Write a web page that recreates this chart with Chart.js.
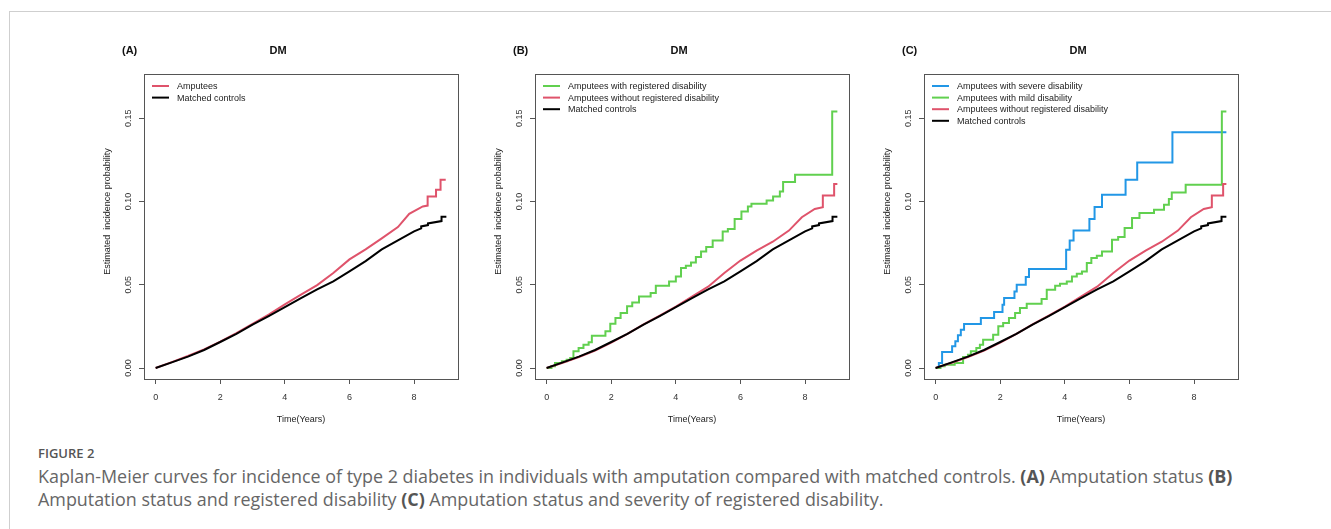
<!DOCTYPE html>
<html>
<head>
<meta charset="utf-8">
<script src="https://cdn.jsdelivr.net/npm/chart.js@4.4.0/dist/chart.umd.min.js"></script>
<style>
  body { margin: 0; background: #fff; width: 1331px; height: 529px; overflow: hidden; position: relative; }
  #frame { position: absolute; left: 9px; top: 11px; right: 0; bottom: 0; border-top: 1px solid #cfcfcf; border-left: 1px solid #cfcfcf; }
  .panel { position: absolute; top: 30px; width: 400px; height: 410px; }
  #caption { position: absolute; left: 38px; top: 443px; font-family: "Open Sans", sans-serif; color: #666; white-space: nowrap; }
  #caption .fig { font-size: 13px; font-weight: 600; color: #555; line-height: 20px; }
  #caption .txt { font-size: 17.9px; line-height: 23px; margin-top: 2px; }
  #caption b { font-weight: 700; color: #555; }
</style>
</head>
<body>
<div id="frame"></div>
<canvas id="panelA" class="panel" width="400" height="410" style="left:80px"></canvas>
<canvas id="panelB" class="panel" width="400" height="410" style="left:471px"></canvas>
<canvas id="panelC" class="panel" width="400" height="410" style="left:860px"></canvas>
<div id="caption">
  <div class="fig">FIGURE 2</div>
  <div class="txt">Kaplan-Meier curves for incidence of type 2 diabetes in individuals with amputation compared with matched controls. <b>(A)</b> Amputation status <b>(B)</b><br>Amputation status and registered disability <b>(C)</b> Amputation status and severity of registered disability.</div>
</div>
<script>
// axis ticks
var xTicks = [0, 2, 4, 6, 8];
var yTicks = [0, 0.05, 0.10, 0.15];

// matched controls (same in all panels)
var controlsT = [0, 0.5, 1, 1.5, 2, 2.5, 3, 3.5, 4, 4.5, 5, 5.5, 6, 6.5, 7, 7.5, 8, 8.22, 8.22, 8.43, 8.43, 8.85, 8.85, 9.0];
var controlsP = [0, 0.0034, 0.0068, 0.0108, 0.0156, 0.0205, 0.026, 0.0312, 0.0366, 0.042, 0.0472, 0.052, 0.058, 0.0642, 0.0712, 0.0766, 0.082, 0.0838, 0.085, 0.0858, 0.0868, 0.0882, 0.0908, 0.0908];

// panel A: all amputees
var ampT = [0, 0.5, 1, 1.5, 2, 2.5, 3, 3.5, 4, 4.5, 5, 5.5, 6, 6.5, 7, 7.5, 7.85, 8.27, 8.42, 8.42, 8.68, 8.68, 8.82, 8.82, 8.98];
var ampP = [0, 0.0035, 0.0072, 0.0112, 0.0158, 0.021, 0.0265, 0.032, 0.0382, 0.044, 0.0498, 0.057, 0.0652, 0.0712, 0.0778, 0.0846, 0.0926, 0.097, 0.0975, 0.103, 0.103, 0.107, 0.107, 0.113, 0.113];

// panels B and C: amputees without registered disability
var ampNoDisT = [0, 0.5, 1, 1.5, 2, 2.5, 3, 3.5, 4, 4.5, 5, 5.5, 6, 6.5, 7, 7.5, 7.9, 8.3, 8.55, 8.55, 8.9, 8.9, 9.0];
var ampNoDisP = [0, 0.0032, 0.0066, 0.0105, 0.0152, 0.0205, 0.0262, 0.0315, 0.0368, 0.0428, 0.0488, 0.057, 0.0645, 0.0705, 0.0758, 0.0825, 0.0905, 0.0955, 0.0965, 0.1035, 0.1035, 0.1105, 0.1105];

// panel B: amputees with registered disability
var ampDisT = [0, 0.15, 0.26, 0.47, 0.62, 0.73, 0.83, 0.99, 1.14, 1.3, 1.4, 1.82, 1.97, 2.13, 2.29, 2.49, 2.65, 2.86, 3.22, 3.38, 3.79, 4.0, 4.16, 4.31, 4.47, 4.62, 4.78, 4.94, 5.14, 5.45, 5.61, 5.82, 6.03, 6.23, 6.34, 6.81, 7.01, 7.22, 7.32, 7.69, 8.84, 9.0];
var ampDisP = [0, 0.001, 0.003, 0.004, 0.005, 0.006, 0.010, 0.012, 0.014, 0.0154, 0.0194, 0.022, 0.0266, 0.030, 0.033, 0.037, 0.0394, 0.043, 0.045, 0.0494, 0.052, 0.055, 0.060, 0.0614, 0.0634, 0.0666, 0.070, 0.0726, 0.0766, 0.082, 0.0834, 0.0894, 0.094, 0.097, 0.0986, 0.1006, 0.103, 0.106, 0.1116, 0.116, 0.154, 0.154];

// panel C: severe disability
var severeT = [0, 0.1, 0.2, 0.51, 0.61, 0.69, 0.78, 0.88, 1.4, 1.81, 2.07, 2.12, 2.44, 2.51, 2.79, 2.89, 4.04, 4.15, 4.27, 4.76, 4.92, 5.15, 5.88, 6.24, 7.33, 9.0];
var severeP = [0, 0.003, 0.0096, 0.013, 0.016, 0.0196, 0.023, 0.0264, 0.030, 0.0336, 0.038, 0.042, 0.046, 0.050, 0.0546, 0.0594, 0.071, 0.0766, 0.0826, 0.0894, 0.0966, 0.104, 0.113, 0.1234, 0.1416, 0.1416];

// panel C: mild disability
var mildT = [0, 0.15, 0.28, 0.59, 0.85, 1.0, 1.09, 1.26, 1.37, 1.47, 1.78, 1.94, 2.09, 2.27, 2.46, 2.61, 2.82, 3.28, 3.44, 3.70, 3.85, 4.06, 4.22, 4.37, 4.53, 4.68, 4.82, 4.99, 5.15, 5.46, 5.65, 5.85, 6.08, 6.31, 6.76, 7.07, 7.22, 7.31, 7.74, 8.86, 9.0];
var mildP = [0, 0.001, 0.002, 0.003, 0.0066, 0.008, 0.010, 0.012, 0.014, 0.017, 0.020, 0.025, 0.027, 0.030, 0.033, 0.036, 0.0386, 0.0414, 0.047, 0.0494, 0.0506, 0.052, 0.055, 0.0566, 0.058, 0.063, 0.066, 0.0674, 0.070, 0.077, 0.0786, 0.084, 0.090, 0.093, 0.095, 0.098, 0.1014, 0.1054, 0.110, 0.154, 0.154];

var RED = '#DF536B', GREEN = '#61D04F', BLUE = '#2297E6', BLACK = '#000000';
var FONT = "'Liberation Sans', Arial, sans-serif";

function series(label, color, t, p, stepped) {
    return {
        label: label,
        data: t.map(function (v, i) { return {x: v, y: p[i]}; }),
        borderColor: color,
        backgroundColor: color,
        borderWidth: 2,
        pointRadius: 0,
        tension: 0,
        // 'before' = horizontal first, then the jump (Kaplan-Meier step)
        stepped: stepped ? 'before' : false,
        fill: false
    };
}

// R style box, panel letter, titles and legend
var rFrame = {
    id: 'rFrame',
    afterDraw: function (chart, args, opts) {
        var ctx = chart.ctx, a = chart.chartArea;
        ctx.save();
        ctx.strokeStyle = '#555';
        ctx.lineWidth = 1;
        ctx.strokeRect(Math.round(a.left) + 0.5, Math.round(a.top) + 0.5, Math.round(a.right - a.left), Math.round(a.bottom - a.top));

        ctx.fillStyle = '#111';
        ctx.font = 'bold 11px ' + FONT;
        ctx.textBaseline = 'middle';
        ctx.textAlign = 'left';
        ctx.fillText(opts.letter, 42, 21);
        ctx.textAlign = 'center';
        ctx.fillText('DM', opts.titleX, 21);

        // y axis title sits a bit above the box centre in the original
        ctx.font = '9px ' + FONT;
        ctx.fillStyle = '#222';
        ctx.save();
        ctx.translate(28, (a.top + a.bottom) / 2 - 15);
        ctx.rotate(-Math.PI / 2);
        ctx.fillText('Estimated  incidence probability', 0, 0);
        ctx.restore();

        ctx.textAlign = 'left';
        chart.data.datasets.forEach(function (ds, i) {
            var y = 56 + i * 11.6;
            ctx.strokeStyle = ds.borderColor;
            ctx.lineWidth = 2;
            ctx.beginPath();
            ctx.moveTo(a.left + 8, y);
            ctx.lineTo(a.left + 25, y);
            ctx.stroke();
            ctx.fillStyle = '#222';
            ctx.fillText(ds.label, a.left + 33, y + 0.5);
        });
        ctx.restore();
    }
};

function makePanel(id, letter, titleX, datasets) {
    // later legend entries are drawn on top, as in the R plot
    datasets.forEach(function (ds, i) { ds.order = datasets.length - i; });
    var tickFont = {family: FONT, size: 9};
    return new Chart(document.getElementById(id), {
        type: 'line',
        data: {datasets: datasets},
        plugins: [rFrame],
        options: {
            responsive: false,
            animation: false,
            layout: {padding: {left: 0, top: 44, right: 22, bottom: 0}},
            plugins: {
                legend: {display: false},
                tooltip: {enabled: false},
                rFrame: {letter: letter, titleX: titleX}
            },
            scales: {
                x: {
                    type: 'linear',
                    position: 'bottom',
                    min: -0.36,
                    max: 9.36,
                    afterBuildTicks: function (axis) { axis.ticks = xTicks.map(function (v) { return {value: v}; }); },
                    afterFit: function (axis) { axis.height = 61; },
                    ticks: {color: '#333', font: tickFont, padding: 8, maxRotation: 0, autoSkip: false,
                        callback: function (v) { return String(v); }},
                    grid: {display: true, drawOnChartArea: false, drawTicks: true, tickLength: 5, color: '#555'},
                    border: {display: false},
                    title: {display: true, text: 'Time(Years)', color: '#222', font: tickFont, padding: {top: 0, bottom: 15}}
                },
                y: {
                    type: 'linear',
                    position: 'left',
                    min: -0.0066,
                    max: 0.1765,
                    afterBuildTicks: function (axis) { axis.ticks = yTicks.map(function (v) { return {value: v}; }); },
                    afterFit: function (axis) { axis.width = 64; },
                    ticks: {color: '#333', font: tickFont, padding: 2, minRotation: 90, maxRotation: 90, crossAlign: 'center', autoSkip: false,
                        callback: function (v) { return v.toFixed(2); }},
                    grid: {display: true, drawOnChartArea: false, drawTicks: true, tickLength: 5, color: '#555'},
                    border: {display: false},
                    title: {display: false}
                }
            }
        }
    });
}

makePanel('panelA', '(A)', 198, [
    series('Amputees', RED, ampT, ampP, false),
    series('Matched controls', BLACK, controlsT, controlsP, false)
]);

makePanel('panelB', '(B)', 208, [
    series('Amputees with registered disability', GREEN, ampDisT, ampDisP, true),
    series('Amputees without registered disability', RED, ampNoDisT, ampNoDisP, false),
    series('Matched controls', BLACK, controlsT, controlsP, false)
]);

makePanel('panelC', '(C)', 218, [
    series('Amputees with severe disability', BLUE, severeT, severeP, true),
    series('Amputees with mild disability', GREEN, mildT, mildP, true),
    series('Amputees without registered disability', RED, ampNoDisT, ampNoDisP, false),
    series('Matched controls', BLACK, controlsT, controlsP, false)
]);
</script>
</body>
</html>
